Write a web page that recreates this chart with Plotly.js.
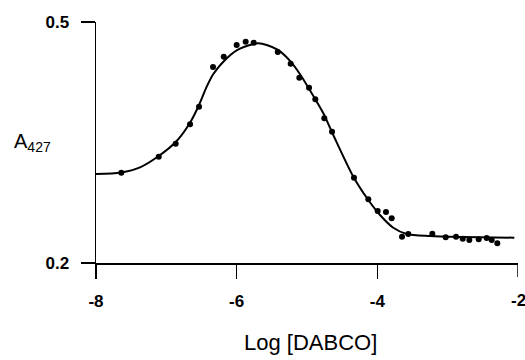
<!DOCTYPE html>
<html>
<head>
<meta charset="utf-8">
<script src="https://cdn.plot.ly/plotly-3.0.1.min.js"></script>
<style>html,body{margin:0;padding:0;background:#fff;}#chart{width:525px;height:360px;}</style>
</head>
<body>
<div id="chart"></div>
<script>
// Measured points: Log [DABCO] vs A427
const dataX = [-7.64, -7.108, -6.867, -6.663, -6.535, -6.336, -6.184, -6.0, -5.872, -5.758,
  -5.416, -5.232, -5.109, -4.971, -4.882, -4.754, -4.644, -4.332, -4.128, -3.995,
  -3.877, -3.796, -3.649, -3.56, -3.218, -3.028, -2.881, -2.786, -2.692, -2.559,
  -2.445, -2.374, -2.294];
const dataY = [0.3124, 0.3323, 0.3485, 0.3727, 0.3944, 0.4440, 0.4568, 0.4714, 0.4755, 0.4742,
  0.4627, 0.4481, 0.4307, 0.4182, 0.4038, 0.3801, 0.3635, 0.3062, 0.2793, 0.2647,
  0.2635, 0.2556, 0.2327, 0.2361, 0.2365, 0.2320, 0.2327, 0.2303, 0.2286, 0.2295,
  0.2311, 0.2286, 0.2245];

// Fitted curve
const fitX = [-8.0, -7.645, -7.374, -7.108, -6.867, -6.663, -6.535, -6.426, -6.332, -6.19,
  -6.0, -5.763, -5.692, -5.573, -5.412, -5.232, -5.092, -4.862, -4.768, -4.626,
  -4.339, -4.128, -3.962, -3.773, -3.582, -3.251, -2.777, -2.052];
const fitY = [0.3108, 0.3127, 0.3191, 0.3332, 0.3506, 0.3747, 0.3967, 0.4195, 0.4353, 0.4506,
  0.4648, 0.4726, 0.4735, 0.4714, 0.4652, 0.4506, 0.4340, 0.4008, 0.3864, 0.3593,
  0.3071, 0.2784, 0.2598, 0.2439, 0.2361, 0.2336, 0.2324, 0.2315];

const xTickVals = [-8, -6, -4, -2];
const xTickText = ["-8", "-6", "-4", "-2"];
const yTickVals = [0.2, 0.5];
const yTickText = ["0.2", "0.5"];

const traces = [
  {x: fitX, y: fitY, type: 'scatter', mode: 'lines',
   line: {color: '#000', width: 2, shape: 'spline', smoothing: 0.8},
   hoverinfo: 'skip', cliponaxis: false},
  {x: dataX, y: dataY, type: 'scatter', mode: 'markers',
   marker: {color: '#000', size: 6}, cliponaxis: false}
];

const tickFont = {family: 'Liberation Sans, Arial, sans-serif', size: 17, color: '#000', weight: 'bold'};

// the last x tick label sits at the window's edge; draw it as an annotation so it is not dropped
const lastIdx = xTickVals.length - 1;

const layout = {
  width: 525, height: 360,
  margin: {l: 96, r: 7, t: 22, b: 97, pad: 0},
  paper_bgcolor: '#fff', plot_bgcolor: '#fff',
  showlegend: false,
  xaxis: {
    range: [-8, -2], showgrid: false, zeroline: false,
    showline: true, linecolor: '#000', linewidth: 1.5,
    ticks: 'outside', ticklen: 14, tickwidth: 1.5, tickcolor: '#000',
    tickvals: xTickVals.slice(0, lastIdx), ticktext: xTickText.slice(0, lastIdx), tickfont: tickFont,
    ticklabelstandoff: 8
  },
  yaxis: {
    range: [0.2, 0.5], showgrid: false, zeroline: false,
    showline: true, linecolor: '#000', linewidth: 1.5,
    ticks: 'outside', ticklen: 14, tickwidth: 1.5, tickcolor: '#000',
    tickvals: yTickVals, ticktext: yTickText, tickfont: tickFont,
    ticklabelstandoff: 8
  },
  shapes: [
    {type: 'line', xref: 'x', yref: 'paper', x0: xTickVals[lastIdx], x1: xTickVals[lastIdx],
     y0: 0, y1: -14 / 241, line: {color: '#000', width: 1.5}}
  ],
  annotations: [
    {text: '<b>' + xTickText[lastIdx] + '</b>', xref: 'x', yref: 'paper',
     x: xTickVals[lastIdx], y: -0.155, xanchor: 'center', yanchor: 'middle', showarrow: false,
     font: tickFont},
    {text: 'A<sub>427</sub>', xref: 'paper', yref: 'paper',
     x: -0.2, y: 0.5, xanchor: 'left', yanchor: 'middle', showarrow: false,
     font: {family: 'Liberation Sans, Arial, sans-serif', size: 20, color: '#000'}},
    {text: 'Log [DABCO]', xref: 'paper', yref: 'paper',
     x: 0.509, y: -0.33, xanchor: 'center', yanchor: 'middle', showarrow: false,
     font: {family: 'Liberation Sans, Arial, sans-serif', size: 22, color: '#000'}}
  ]
};

Plotly.newPlot('chart', traces, layout, {displayModeBar: false, staticPlot: true});
</script>
</body>
</html>
